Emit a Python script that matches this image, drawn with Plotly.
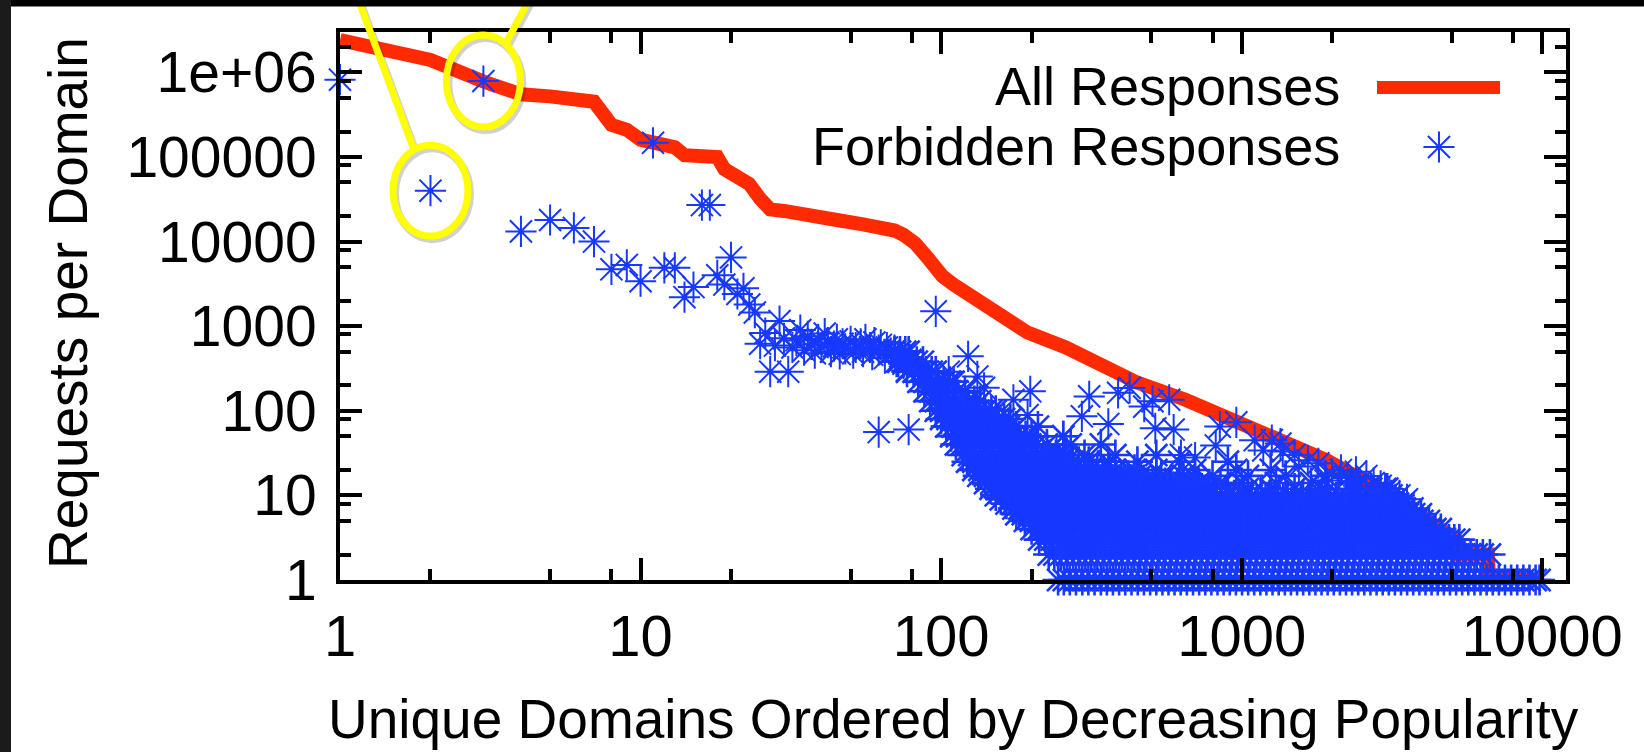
import numpy as np
import plotly.graph_objects as go

# ---------------- data ----------------
# All responses: requests per domain, domains ranked by popularity
all_rank = [1, 2, 3, 4, 5, 6, 7, 8, 9, 10, 11, 12, 13, 14, 17, 18, 19, 21, 23, 25, 27,
            30, 36, 45, 55, 63, 70, 75, 82, 90, 95, 101, 110, 125, 150, 194, 260, 333,
            450, 650, 930, 1350, 1920, 2760, 3300, 3970, 4600, 5200, 5300, 6600, 6650, 9800]
all_count = [2.4e6, 1.4e6, 7.8e5, 5.5e5, 5.2e5, 4.9e5, 4.5e5, 2.4e5, 2.1e5, 1.6e5, 1.45e5,
             1.4e5, 1.3e5, 1.05e5, 1.0e5, 1.0e5, 7.2e4, 6.0e4, 4.8e4, 3.2e4, 2.4e4,
             2.3e4, 2.0e4, 1.8e4, 1.6e4, 1.5e4, 1.35e4, 1.2e4, 9.5e3, 6.5e3, 5.1e3, 3.9e3,
             3.1e3, 2.3e3, 1.45e3, 840, 560, 370, 215, 135, 78, 45, 26, 12.7, 8, 5.6, 4,
             3, 2, 2, 1, 1]

# Forbidden responses: the most popular domains, one by one
top_rank = [1, 2, 3, 4, 5, 6, 7, 8, 9, 10, 11, 12, 13, 14, 15, 16, 17, 18, 19, 20,
            21, 22, 23, 24]
top_count = [8.2e5, 4.0e4, 7.9e5, 1.32e4, 1.8e4, 1.45e4, 1.0e4, 4.7e3, 5.3e3, 3.4e3,
             1.47e5, 4.9e3, 4.9e3, 2.2e3, 2.9e3, 2.7e4, 2.7e4, 4.0e3, 3.1e3, 6.5e3,
             2.4e3, 2.8e3, 1.8e3, 1.45e3]

# Forbidden responses: ranks 25-80 band
band_rank = [25, 26, 27, 28, 29, 30, 31, 32, 33, 34, 35, 36, 37, 38, 39, 40, 41, 42, 43,
             44, 45, 46, 47, 48, 50, 51, 52, 54, 55, 56, 58, 59, 60, 62, 63, 65, 66, 68,
             70, 71, 73, 75, 77, 79]
band_count = [620, 830, 290, 590, 1150, 720, 290, 560, 680, 900, 520, 760, 610, 480, 700,
              560, 820, 640, 500, 580, 700, 470, 620, 540, 660, 480, 560, 620, 500, 700,
              560, 460, 640, 520, 600, 420, 560, 480, 520, 380, 440, 360, 300, 400]

# Forbidden responses: scattered domains above the dense cloud
spread_rank = [62, 78, 96, 106, 123, 132, 139, 174, 194, 198, 215, 242, 255, 294, 311,
               388, 424, 474, 505, 516, 574, 594, 628, 820, 846, 960, 1105, 1260, 1346,
               1370, 1660, 2140, 700, 1500, 2600, 2900, 1800, 360, 1180, 2400,
               1550, 2000, 2250, 2750, 3100, 3350, 3550, 1900, 2450, 3000]
spread_count = [56, 60, 1500, 290, 440, 255, 187, 135, 89, 170, 4, 35, 50, 86, 148,
                163, 186, 112, 130, 62, 135, 60, 30, 39, 65, 73, 45, 45, 41,
                33, 26, 20, 28, 30, 17, 13, 24, 70, 34, 19,
                22, 18, 16, 14, 11, 10, 9, 15, 13, 12]

# Forbidden responses: dense cloud, grouped by request count
dense_levels = [1, 2, 3, 4, 5, 6, 7, 8, 9, 10, 12, 14, 17, 20, 25, 30, 40, 50, 65, 80,
                100, 130, 170, 220, 290, 380, 500]
dense_ranks = [
    # 1
    [245, 256, 268, 281, 295, 309, 324, 340, 356, 373, 391, 410, 430, 451, 473, 496,
     520, 545, 571, 598, 627, 657, 689, 722, 757, 793, 831, 871, 913, 957, 1003, 1051,
     1101, 1154, 1209, 1267, 1328, 1392, 1459, 1529, 1602, 1679, 1760, 1844, 1932,
     2025, 2122, 2224, 2330, 2442, 2559, 2682, 2811, 2946, 3087, 3235, 3390, 3553,
     3723, 3902, 4089, 4285, 4491, 4706, 4932, 5169, 5417, 5677, 5949, 6234, 6533,
     6847, 7176, 7520, 7881, 8259, 8655, 9070, 9505, 9800],
    # 2
    [228, 238, 250, 262, 275, 288, 302, 316, 331, 347, 364, 381, 400, 419, 439, 460,
     482, 505, 529, 555, 581, 609, 638, 669, 701, 735, 770, 807, 846, 886, 929, 973,
     1020, 1069, 1120, 1174, 1230, 1289, 1351, 1416, 1484, 1555, 1630, 1708, 1790,
     1876, 1966, 2060, 2159, 2263, 2371, 2485, 2604, 2729, 2860, 2998, 3141, 3292,
     3450, 3616, 3789, 3971, 4162, 4361, 4571, 4790, 5020, 5261, 5513, 5778, 6055,
     6346, 6700],
    # 3
    [212, 222, 233, 244, 256, 268, 281, 294, 308, 323, 339, 355, 372, 390, 408, 428,
     449, 470, 493, 516, 541, 567, 594, 623, 653, 684, 717, 751, 787, 825, 865, 906,
     950, 995, 1043, 1093, 1145, 1200, 1258, 1318, 1381, 1448, 1517, 1590, 1666,
     1746, 1830, 1918, 2010, 2106, 2207, 2313, 2424, 2541, 2663, 2790, 2924, 3065,
     3212, 3366, 3527, 3697, 3874, 4060, 4255, 4459, 4673, 4897, 5100, 5300],
    # 4
    [200, 210, 220, 230, 241, 253, 265, 278, 291, 305, 320, 335, 351, 368, 386, 404,
     424, 444, 465, 488, 511, 535, 561, 588, 616, 646, 677, 709, 743, 779, 816, 855,
     896, 939, 984, 1032, 1081, 1133, 1187, 1244, 1304, 1367, 1432, 1501, 1573, 1649,
     1728, 1811, 1898, 1989, 2084, 2184, 2289, 2399, 2514, 2635, 2761, 2894, 3033,
     3178, 3331, 3491, 3658, 3834, 4018, 4210, 4412, 4600],
    # 5
    [190, 199, 209, 219, 229, 240, 252, 264, 276, 290, 303, 318, 333, 349, 366, 383,
     402, 421, 441, 462, 484, 508, 532, 557, 584, 612, 642, 672, 705, 738, 774, 811,
     850, 891, 933, 978, 1025, 1075, 1126, 1180, 1237, 1296, 1358, 1423, 1492, 1563,
     1638, 1717, 1799, 1886, 1976, 2071, 2170, 2275, 2384, 2498, 2618, 2744, 2876,
     3014, 3158, 3310, 3469, 3635, 3810, 3993, 4200],
    # 6
    [178, 187, 196, 205, 215, 225, 236, 247, 259, 272, 285, 298, 313, 328, 343, 360,
     377, 395, 414, 434, 455, 477, 500, 524, 549, 575, 603, 632, 662, 694, 727, 762,
     799, 837, 877, 919, 963, 1010, 1058, 1109, 1162, 1218, 1276, 1338, 1402, 1469,
     1540, 1613, 1691, 1772, 1857, 1946, 2039, 2137, 2240, 2347, 2460, 2578, 2702,
     2831, 2967, 3110, 3259, 3415, 3579, 3751, 3950],
    # 7
    [174, 182, 191, 200, 210, 220, 231, 242, 253, 265, 278, 291, 305, 320, 335, 351,
     368, 386, 404, 424, 444, 465, 488, 511, 535, 561, 588, 616, 646, 677, 709, 743,
     779, 816, 855, 896, 939, 984, 1032, 1081, 1133, 1187, 1244, 1304, 1367, 1432,
     1501, 1573, 1649, 1728, 1811, 1898, 1989, 2084, 2184, 2289, 2399, 2514, 2635,
     2761, 2894, 3033, 3178, 3331, 3491, 3700],
    # 8
    [165, 173, 181, 190, 199, 209, 219, 229, 240, 252, 264, 276, 290, 303, 318, 333,
     349, 366, 383, 402, 421, 441, 462, 484, 508, 532, 557, 584, 612, 642, 672, 705,
     738, 774, 811, 850, 891, 933, 978, 1025, 1075, 1126, 1180, 1237, 1296, 1358,
     1423, 1492, 1563, 1638, 1717, 1799, 1886, 1976, 2071, 2170, 2275, 2384, 2498,
     2618, 2744, 2876, 3014, 3158, 3310, 3450],
    # 9
    [158, 169, 181, 193, 207, 221, 237, 253, 271, 290, 310, 332, 355, 380, 407, 435,
     466, 498, 533, 571, 611, 653, 699, 748, 800, 856, 916, 980, 1049, 1122, 1201,
     1285, 1375, 1471, 1574, 1684, 1802, 1928, 2063, 2300, 2600, 2900, 3250],
    # 10
    [152, 163, 174, 186, 199, 213, 228, 244, 261, 279, 299, 320, 342, 366, 392, 419,
     449, 480, 514, 550, 588, 629, 673, 720, 771, 825, 883, 944, 1011, 1081, 1157,
     1238, 1325, 1418, 1600, 1800, 2100, 2500, 2800, 3150],
    # 12
    [146, 153, 160, 168, 176, 185, 194, 203, 213, 224, 235, 246, 258, 271, 284, 298,
     312, 327, 343, 360, 378, 397, 416, 436, 457, 480, 503, 528, 553, 580, 609, 639,
     670, 703, 737, 773, 810, 900, 1050, 1250, 1500, 1850, 2300, 2700, 3050],
    # 14
    [140, 147, 154, 161, 169, 177, 186, 195, 204, 214, 225, 236, 247, 259, 272, 285,
     299, 314, 329, 345, 362, 380, 398, 418, 438, 459, 482, 505, 530, 556, 583, 611,
     641, 672, 720, 850, 1000, 1300, 1700, 2300],
    # 17
    [133, 140, 146, 154, 161, 169, 177, 186, 195, 204, 214, 225, 236, 247, 259, 272,
     285, 299, 314, 329, 345, 362, 380, 398, 418, 438, 460, 540, 640, 800, 1050, 1400,
     1900],
    # 20
    [128, 134, 141, 148, 155, 162, 170, 178, 187, 196, 206, 216, 226, 237, 249, 261,
     274, 287, 301, 316, 331, 347, 364, 380, 440, 520, 700, 960, 1250],
    # 25
    [122, 128, 134, 141, 148, 155, 162, 170, 178, 187, 196, 206, 216, 226, 237, 249,
     261, 274, 287, 310, 360, 450, 620, 900],
    # 30
    [118, 124, 130, 136, 143, 150, 157, 165, 173, 181, 190, 199, 209, 219, 230, 241,
     260, 300, 380, 520],
    # 40
    [112, 117, 123, 129, 135, 142, 149, 156, 164, 172, 180, 189, 198, 208, 225, 270, 340],
    # 50
    [108, 113, 119, 124, 130, 137, 143, 150, 158, 165, 173, 182, 191, 200, 255],
    # 65
    [104, 109, 114, 120, 126, 132, 138, 145, 152, 160, 168, 178, 210],
    # 80
    [100, 105, 110, 115, 121, 127, 133, 140, 147, 155, 162, 170],
    # 100
    [96, 100, 105, 110, 115, 121, 127, 133, 140, 147, 152],
    # 130
    [92, 96, 101, 106, 111, 117, 123, 129, 135],
    # 170
    [88, 92, 97, 102, 107, 113, 120],
    # 220
    [84, 88, 92, 97, 102, 107, 110],
    # 290
    [77, 81, 85, 89, 93, 96],
    # 380
    [72, 75, 79, 83, 87],
    # 500
    [70, 73, 76, 78],
]

x_tick_vals = [1, 10, 100, 1000, 10000]
x_tick_text = ["1", "10", "100", "1000", "10000"]
y_tick_vals = [1, 10, 100, 1000, 10000, 100000, 1000000]
y_tick_text = ["1", "10", "100", "1000", "10000", "100000", "1e+06"]
minor_steps = [2, 5, 8]

# ---------------- styling ----------------
RED = "#FF2A00"
BLUE = "#1638FF"
FONT = "Liberation Sans, Arial, Helvetica, sans-serif"

W, H = 1644, 752
PL, PR, PT, PB = 340, 1566, 32, 580          # plot box in pixels
X_LOG_MAX = np.log10(12000)
Y_LOG_MAX = np.log10(3.0e6)


def px_x(px):
    return (px - PL) / (PR - PL)


def px_y(py):
    return (PB - py) / (PB - PT)


def data_x(v):
    return np.log10(v) / X_LOG_MAX


def data_y(v):
    return np.log10(v) / Y_LOG_MAX


forb_rank = list(top_rank) + list(band_rank) + list(spread_rank)
forb_count = list(top_count) + list(band_count) + list(spread_count)
n_single = len(forb_rank)
for level, ranks in zip(dense_levels, dense_ranks):
    forb_rank += ranks
    forb_count += [level] * len(ranks)
# overplotted cloud strokes read a little heavier than isolated stars
stroke = [2.0] * n_single + [2.6] * (len(forb_rank) - n_single)

star = dict(symbol="asterisk-open", size=26, color=BLUE, line=dict(color=BLUE, width=2))

fig = go.Figure()
fig.add_trace(go.Scatter(x=all_rank, y=all_count, mode="lines",
                         line=dict(color=RED, width=14), name="All Responses",
                         cliponaxis=False))
fig.add_trace(go.Scatter(x=forb_rank, y=forb_count, mode="markers",
                         marker=dict(star, line=dict(color=BLUE, width=stroke)),
                         name="Forbidden Responses", cliponaxis=False))
# key symbol for the second series
fig.add_trace(go.Scatter(x=[1439], y=[147], xaxis="x2", yaxis="y2", mode="markers",
                         marker=star, cliponaxis=False, hoverinfo="skip"))


def minor_vals(top_decade):
    return [m * 10 ** d for d in range(top_decade + 1) for m in minor_steps]


axis_common = dict(
    type="log", tickmode="array", ticks="inside", ticklen=22, tickwidth=3.5,
    tickcolor="black", showline=True, linewidth=4, linecolor="black",
    mirror="ticks", showgrid=False, zeroline=False,
)

fig.update_layout(
    width=W, height=H,
    margin=dict(l=PL, r=W - PR, t=PT, b=H - PB, pad=0),
    paper_bgcolor="white", plot_bgcolor="white",
    showlegend=False,
    font=dict(family=FONT, size=55, color="black"),
    xaxis=dict(axis_common, range=[0, X_LOG_MAX], tickvals=x_tick_vals,
               ticktext=x_tick_text, ticklabelstandoff=2,
               tickfont=dict(family=FONT, size=58, color="black"),
               minor=dict(tickvals=minor_vals(4), ticks="inside", ticklen=11,
                          tickwidth=3.5, tickcolor="black", showgrid=False)),
    yaxis=dict(axis_common, range=[0, Y_LOG_MAX], tickvals=y_tick_vals,
               ticktext=y_tick_text, ticklabelstandoff=8,
               tickfont=dict(family=FONT, size=57, color="black"),
               minor=dict(tickvals=minor_vals(6), ticks="inside", ticklen=11,
                          tickwidth=3.5, tickcolor="black", showgrid=False)),
    xaxis2=dict(overlaying="x", range=[PL, PR], visible=False),
    yaxis2=dict(overlaying="y", range=[PB, PT], visible=False),
)

# axis titles and key text
fig.add_annotation(text="Unique Domains Ordered by Decreasing Popularity",
                   xref="paper", yref="paper", x=px_x(954), y=px_y(719),
                   xanchor="center", yanchor="middle", showarrow=False,
                   font=dict(family=FONT, size=55, color="black"))
fig.add_annotation(text="Requests per Domain", textangle=-90,
                   xref="paper", yref="paper", x=px_x(68), y=px_y(303),
                   xanchor="center", yanchor="middle", showarrow=False,
                   font=dict(family=FONT, size=55, color="black"))
for label, yc in [("All Responses", 86), ("Forbidden Responses", 146)]:
    fig.add_annotation(text=label, xref="paper", yref="paper",
                       x=px_x(1342), y=px_y(yc), xanchor="right", yanchor="middle",
                       showarrow=False, font=dict(family=FONT, size=54, color="black"))

shapes = []
# key line for the first series
shapes.append(dict(type="rect", xref="paper", yref="paper", layer="above",
                   x0=px_x(1377), x1=px_x(1500), y0=px_y(81), y1=px_y(94),
                   fillcolor=RED, line=dict(width=0)))

# yellow call-outs around the two circled domains
YELLOW = "#FFFF00"
callouts = [
    # (rank, count, half width px, half height px, lead-line start px, lead-line end px)
    (2, 4.0e4, 37.5, 45.5, (413, 147), (357, -4)),
    (3, 7.9e5, 37.0, 46.0, (505, 45), (531, -4)),
]
for rank, count, hw, hh, p0, p1 in callouts:
    cx, cy = data_x(rank), data_y(count)
    dx, dy = hw / (PR - PL), hh / (PB - PT)
    shapes.append(dict(type="circle", xref="paper", yref="paper", layer="above",
                       x0=cx - dx + 2 / (PR - PL), x1=cx + dx + 2 / (PR - PL),
                       y0=cy - dy - 3 / (PB - PT), y1=cy + dy - 3 / (PB - PT),
                       line=dict(color="rgba(0,0,0,0.18)", width=8)))
    shapes.append(dict(type="line", xref="paper", yref="paper", layer="above",
                       x0=px_x(p0[0]) + 2 / (PR - PL), y0=px_y(p0[1] + 3),
                       x1=px_x(p1[0]) + 2 / (PR - PL), y1=px_y(p1[1] + 3),
                       line=dict(color="rgba(0,0,0,0.18)", width=8)))
    shapes.append(dict(type="circle", xref="paper", yref="paper", layer="above",
                       x0=cx - dx, x1=cx + dx, y0=cy - dy, y1=cy + dy,
                       line=dict(color=YELLOW, width=7)))
    shapes.append(dict(type="line", xref="paper", yref="paper", layer="above",
                       x0=px_x(p0[0]), y0=px_y(p0[1]), x1=px_x(p1[0]), y1=px_y(p1[1]),
                       line=dict(color=YELLOW, width=7)))

# dark frame along the top and left edges of the slide
shapes.append(dict(type="rect", xref="paper", yref="paper", layer="above",
                   x0=px_x(0), x1=px_x(W), y0=px_y(6.5), y1=px_y(-2),
                   fillcolor="black", line=dict(width=0)))
shapes.append(dict(type="rect", xref="paper", yref="paper", layer="above",
                   x0=px_x(-2), x1=px_x(11), y0=px_y(H + 2), y1=px_y(-2),
                   fillcolor="#1b1b1b", line=dict(width=0)))
fig.update_layout(shapes=shapes)

fig.write_html("out.html")
